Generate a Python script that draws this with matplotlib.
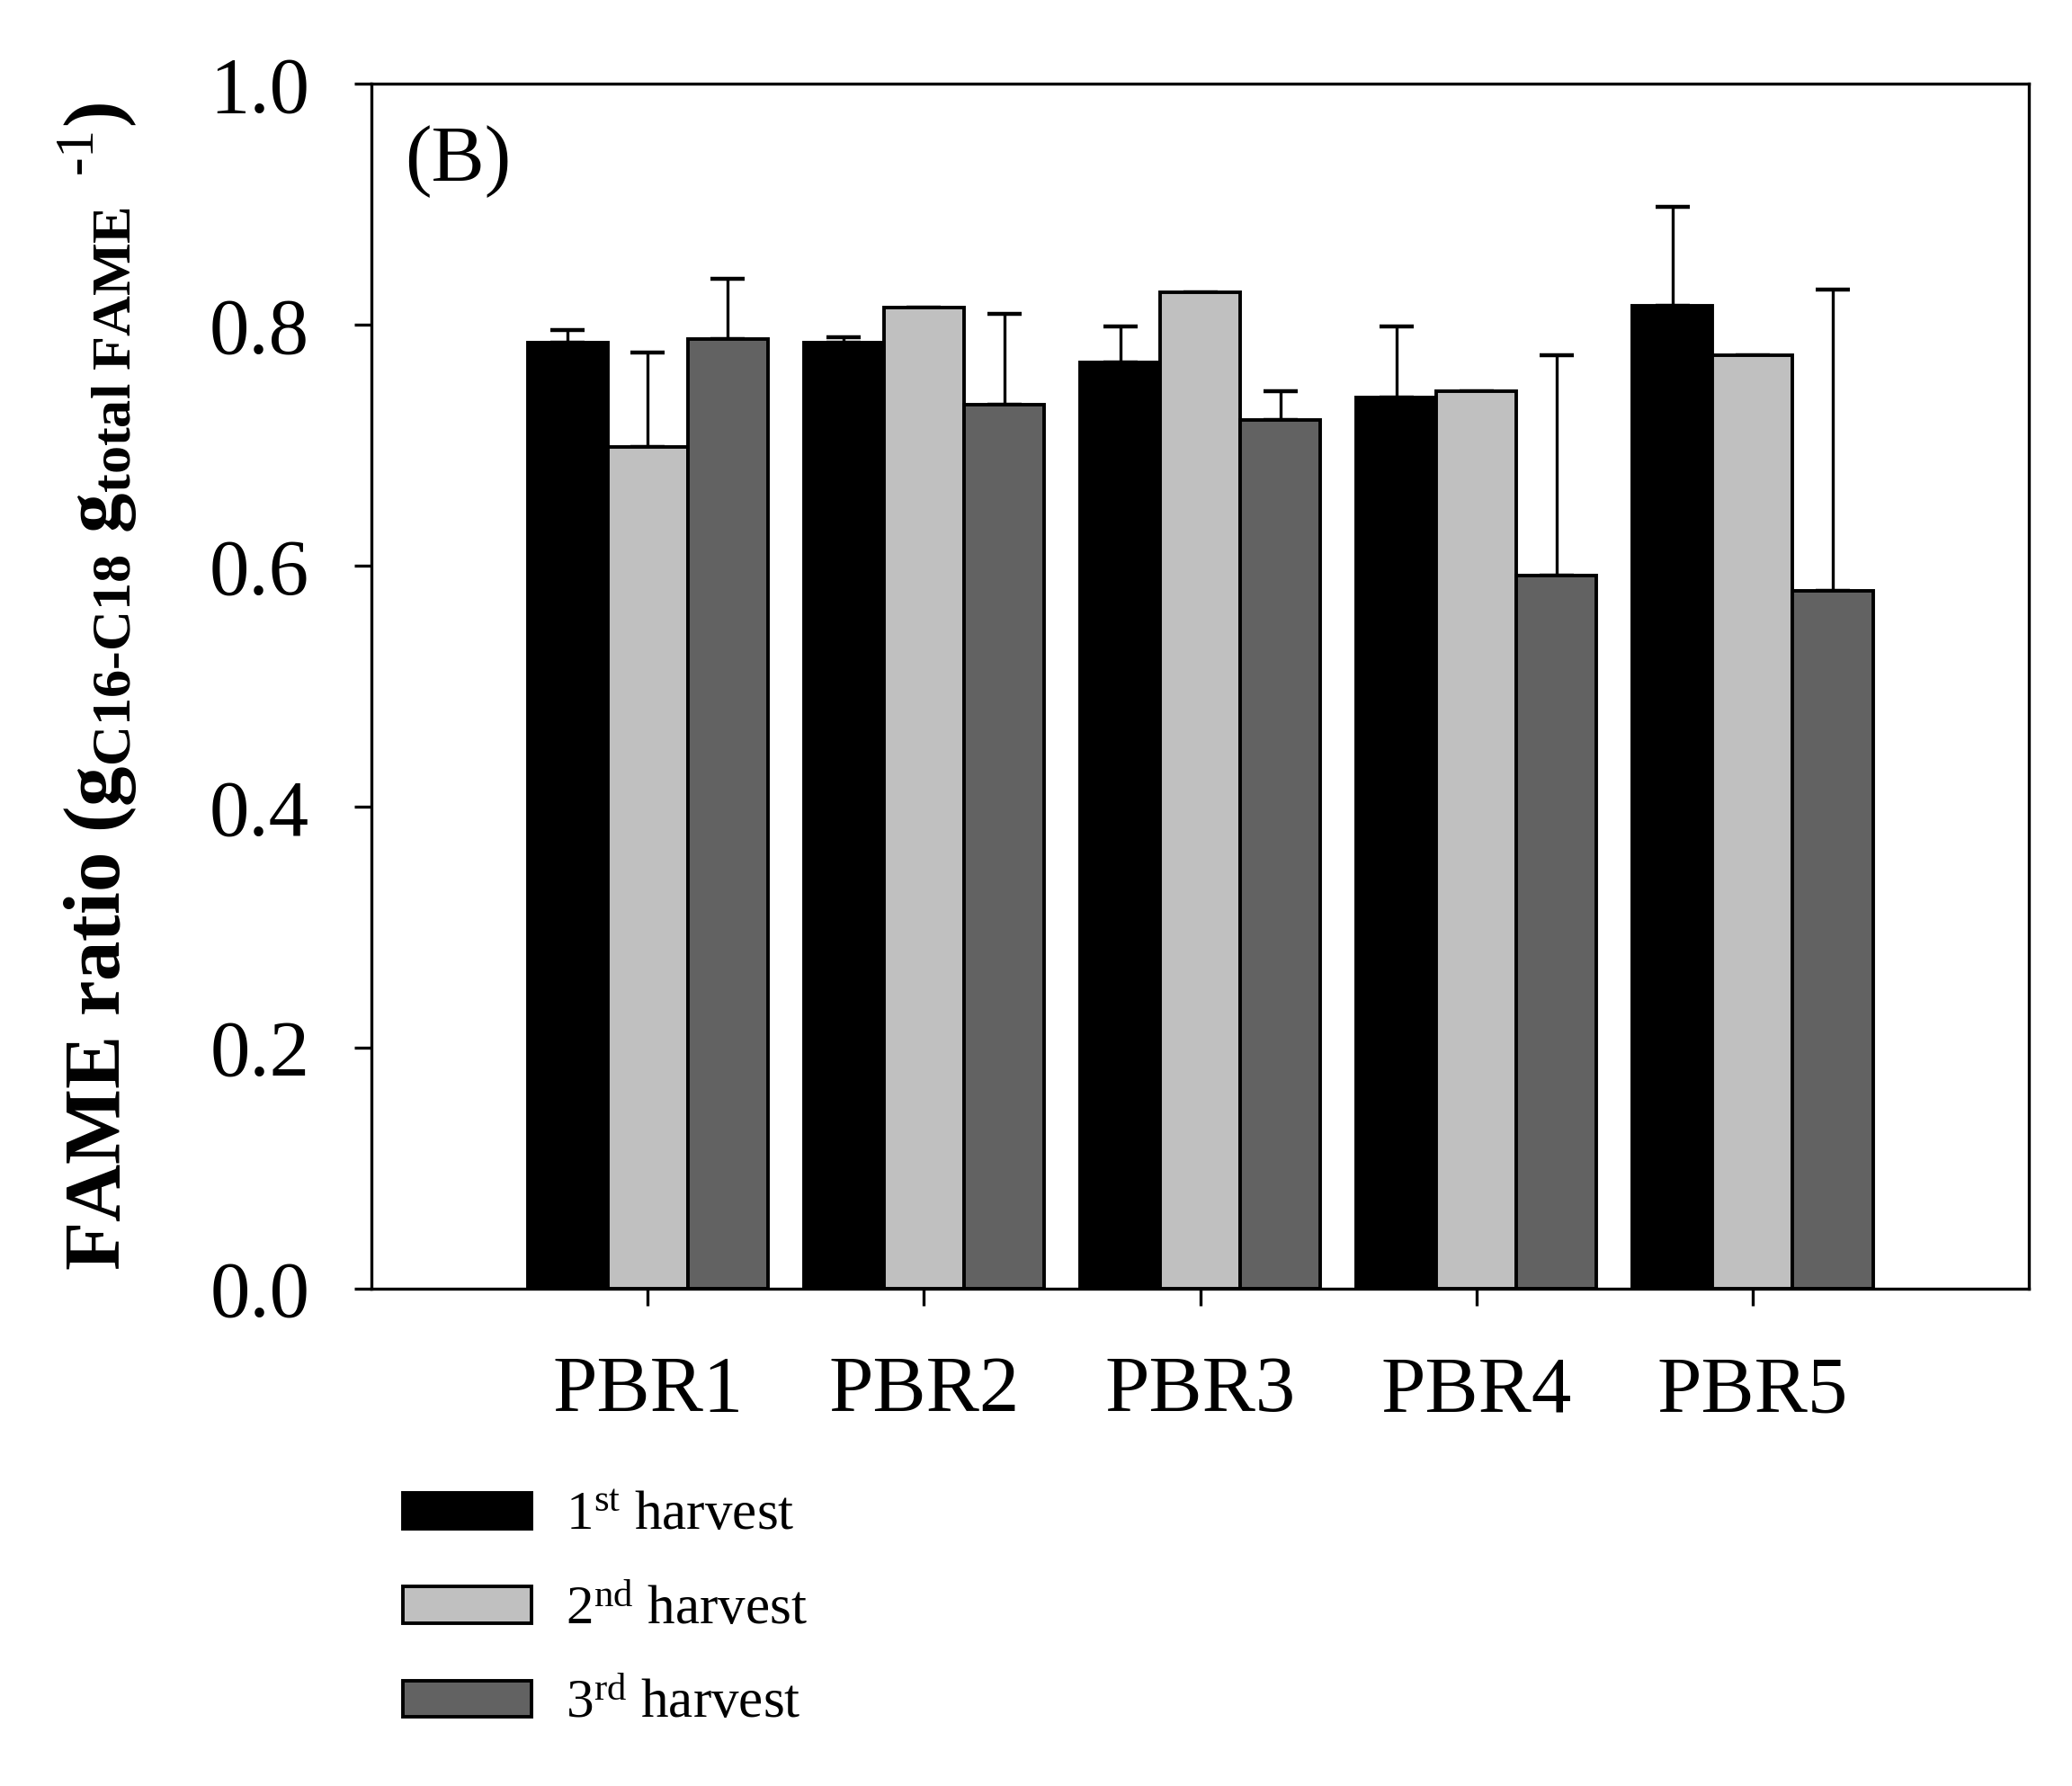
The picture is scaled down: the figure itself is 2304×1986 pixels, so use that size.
import numpy as np
import matplotlib
matplotlib.use("Agg")
import matplotlib.pyplot as plt

plt.rcParams['font.family'] = ['Liberation Serif', 'DejaVu Serif']
plt.rcParams['mathtext.fontset'] = 'custom'
plt.rcParams['mathtext.rm'] = 'Liberation Serif'
plt.rcParams['mathtext.it'] = 'Liberation Serif:italic'
plt.rcParams['mathtext.bf'] = 'Liberation Serif:bold'

reactors = ['PBR1', 'PBR2', 'PBR3', 'PBR4', 'PBR5']
harvest_labels = [r'1$^{\mathrm{st}}$ harvest',
                  r'2$^{\mathrm{nd}}$ harvest',
                  r'3$^{\mathrm{rd}}$ harvest']

first = [0.785, 0.785, 0.769, 0.740, 0.816]
second = [0.699, 0.814, 0.827, 0.745, 0.775]
third = [0.788, 0.734, 0.721, 0.592, 0.579]

# upper error only (nan = no bar drawn)
first_err = [0.011, 0.005, 0.030, 0.059, 0.082]
second_err = [0.078, np.nan, np.nan, np.nan, np.nan]
third_err = [0.050, 0.075, 0.024, 0.183, 0.250]

colors = ['#000000', '#c0c0c0', '#626262']

fig = plt.figure(figsize=(11.52, 9.93), dpi=200)
ax = fig.add_axes([0.1793, 0.2785, 0.7999, 0.6745])

x = np.arange(1, len(reactors) + 1)
w = 0.29
series = [first, second, third]
errs = [first_err, second_err, third_err]
for i, (vals, e) in enumerate(zip(series, errs)):
    pos = x + (i - 1) * w
    ax.bar(pos, vals, w, color=colors[i], edgecolor='black', linewidth=1.4,
           label=harvest_labels[i], zorder=2)
    e = np.array(e)
    ax.errorbar(pos, vals, yerr=[np.zeros_like(e), e], fmt='none',
                ecolor='black', elinewidth=1.2, capsize=7, capthick=1.6,
                zorder=1)

ax.set_xlim(0, 6)
ax.set_ylim(0, 1.0)
ax.set_yticks(np.arange(0, 1.01, 0.2))
ax.set_yticklabels(['%.1f' % v for v in np.arange(0, 1.01, 0.2)])
ax.set_xticks(x)
ax.set_xticklabels(reactors)
ax.tick_params(axis='both', direction='out', length=6.8, width=1.2,
               labelsize=32)
ax.tick_params(axis='y', pad=18)
ax.tick_params(axis='x', pad=20)
for s in ax.spines.values():
    s.set_linewidth(1.2)

hy = '\u2010'
ylab = (r'$\mathbf{FAME\ ratio\ (g_{C16' + hy + r'C18}\ g_{total\ FAME}}'
        r'^{\ \ \mathrm{' + hy + r'1}}\mathbf{)}$')
ax.set_ylabel(ylab, fontsize=32, labelpad=28)

ax.text(0.020, 0.966, '(B)', transform=ax.transAxes, fontsize=32,
        va='top', ha='left')

fig.legend(*ax.get_legend_handles_labels(), loc='upper left',
           bbox_to_anchor=(0.184, 0.177), frameon=False,
           fontsize=22, handlelength=2.34, handleheight=0.64,
           labelspacing=0.8, handletextpad=0.62, borderaxespad=0)

fig.savefig('out.png', dpi=200)
